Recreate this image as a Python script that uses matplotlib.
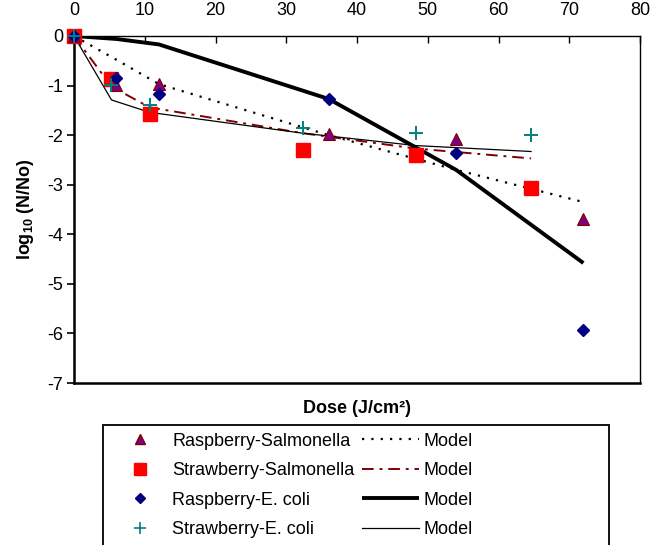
import matplotlib
matplotlib.use("Agg")
import matplotlib.pyplot as plt
from matplotlib.lines import Line2D
from matplotlib.patches import Rectangle

plt.rcParams['font.family'] = ['Liberation Sans', 'DejaVu Sans']
plt.rcParams['axes.unicode_minus'] = False
plt.rcParams['mathtext.fontset'] = 'custom'
plt.rcParams['mathtext.rm'] = 'Liberation Sans'
plt.rcParams['mathtext.bf'] = 'Liberation Sans:bold'

# Data
rasp_dose = [0, 6, 12, 36, 54, 72]
straw_dose = [0, 5.3, 10.7, 32.3, 48.3, 64.6]

rasp_salm = [0, -0.98, -0.97, -1.98, -2.08, -3.70]
straw_salm = [0, -0.87, -1.57, -2.30, -2.40, -3.07]
rasp_ecoli = [0, -0.85, -1.17, -1.28, -2.37, -5.93]
straw_ecoli = [0, -0.99, -1.39, -1.85, -1.96, -2.00]

rasp_salm_model = [0, -0.48, -0.97, -2.00, -2.70, -3.35]
straw_salm_model = [0, -1.02, -1.44, -1.96, -2.27, -2.47]
rasp_ecoli_model = [0, -0.06, -0.17, -1.27, -2.70, -4.58]
straw_ecoli_model = [0, -1.29, -1.54, -1.96, -2.21, -2.33]

labels = ["Raspberry-Salmonella", "Strawberry-Salmonella", "Raspberry-E. coli", "Strawberry-E. coli"]
x_ticks = [0, 10, 20, 30, 40, 50, 60, 70, 80]
y_ticks = [0, -1, -2, -3, -4, -5, -6, -7]

FS = 13
W, H = 665, 545
fig = plt.figure(figsize=(W / 100, H / 100), dpi=100)
ax = fig.add_axes([74 / W, 1 - 383 / H, (640 - 74) / W, (383 - 36) / H])

# model lines
l1, = ax.plot(rasp_dose, rasp_salm_model, color='black', lw=1.6, linestyle=(0, (1, 3.2)), zorder=2)
l2, = ax.plot(straw_dose, straw_salm_model, color='#800000', lw=1.4, linestyle=(0, (6, 3, 1.5, 3)), zorder=2)
l3, = ax.plot(rasp_dose, rasp_ecoli_model, color='black', lw=2.8, solid_capstyle='butt', zorder=2)
l4, = ax.plot(straw_dose, straw_ecoli_model, color='black', lw=0.9, zorder=2)

# markers
m2, = ax.plot(straw_dose, straw_salm, 's', color='#ff0000', ms=10, mec='#ff0000', ls='none', zorder=3, clip_on=False)
m1, = ax.plot(rasp_dose, rasp_salm, '^', color='#800080', ms=8.5, mec='#800000', mew=0.8, ls='none', zorder=4, clip_on=False)
m3, = ax.plot(rasp_dose, rasp_ecoli, 'D', color='#000080', ms=6.5, mec='#000080', ls='none', zorder=5, clip_on=False)
m4, = ax.plot(straw_dose, straw_ecoli, '+', color='#008080', ms=10, mew=1.4, ls='none', zorder=6, clip_on=False)

ax.set_xlim(0, 80)
ax.set_ylim(-7, 0)
ax.set_xticks(x_ticks)
ax.set_yticks(y_ticks)
ax.xaxis.tick_top()
ax.tick_params(axis='x', direction='in', length=5, width=1, pad=12, labelsize=FS)
ax.tick_params(axis='y', direction='out', length=5, width=1.2, pad=3, labelsize=FS)
ax.spines['left'].set_linewidth(1.8)
ax.spines['bottom'].set_linewidth(1.8)
ax.spines['top'].set_linewidth(1.0)
ax.spines['right'].set_linewidth(1.0)

ax.set_xlabel("Dose (J/cm²)", fontsize=FS, fontweight='bold')
ax.xaxis.set_label_position('bottom')
ax.xaxis.labelpad = 12
ax.set_ylabel(r"log$_{\mathbf{10}}$ (N/No)", fontsize=FS, fontweight='bold')
ax.yaxis.labelpad = 8

# Legend frame
fig.patches.append(Rectangle((103 / W, -0.1), (609 - 103) / W, 0.1 + (1 - 425 / H),
                             transform=fig.transFigure, fill=False, edgecolor='black', lw=1.3))

# Legend markers
h_markers = [
    Line2D([], [], marker='^', color='#800080', mec='#800000', ms=7, ls='none'),
    Line2D([], [], marker='s', color='#ff0000', mec='#ff0000', ms=9, ls='none'),
    Line2D([], [], marker='D', color='#000080', mec='#000080', ms=5, ls='none'),
    Line2D([], [], marker='+', color='#008080', ms=8, mew=1.2, ls='none'),
]
handles = h_markers + [l1, l2, l3, l4]
leg_labels = labels + ["Model"] * 4
fig.legend(handles, leg_labels, loc='upper left', bbox_to_anchor=(103 / W, 1 - 425 / H),
           ncol=2, frameon=False, fontsize=FS, handlelength=3.2, handletextpad=0.2,
           columnspacing=0.4, labelspacing=0.69, borderaxespad=0.0, borderpad=0.43)

fig.savefig("out.png", dpi=100)
